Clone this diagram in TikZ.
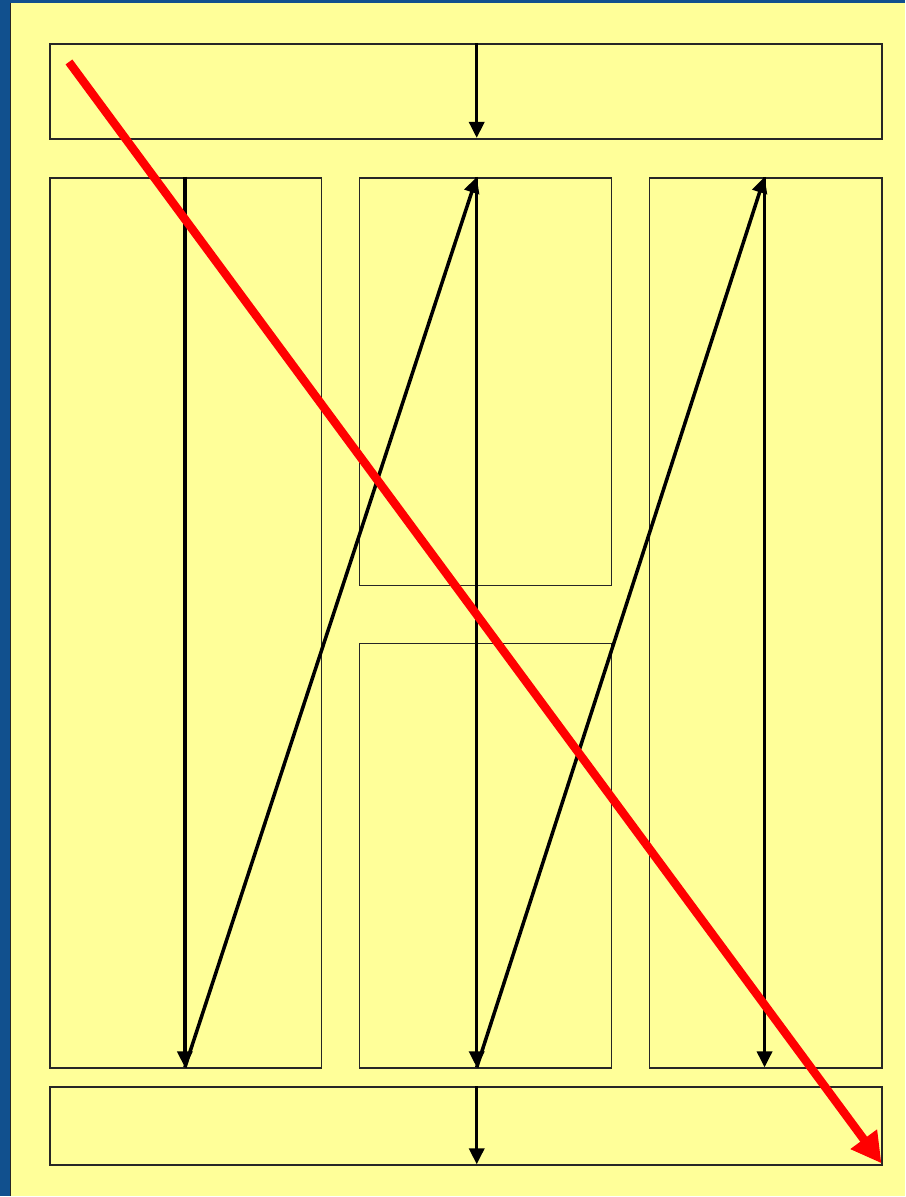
\documentclass[tikz,border=0pt]{standalone}
\usepackage{tikz}
\usetikzlibrary{arrows.meta, positioning}
\definecolor{frameblue}{HTML}{11508E}
\definecolor{paper}{HTML}{FFFF99}
\definecolor{flowred}{HTML}{FF0000}

\begin{document}
\begin{tikzpicture}[x=0.02cm, y=-0.02cm]
  \tikzset{
    pane/.style={draw=black!85, line width=0.95pt, fill=paper, inner sep=0pt, anchor=north west},
    flow/.style={line width=2pt, -{Triangle[length=0.32cm, width=0.3cm]}},
    diag/.style={draw=flowred, line width=4.8pt, -{Triangle[length=0.6cm, width=0.62cm]}}
  }
  % page and margins
  \fill[frameblue] (0,0) rectangle (906,1197);
  \fill[paper] (10,3) rectangle (906,1197);
  \draw[black!85, line width=0.8pt] (10.5,3) -- (10.5,1197);
  \useasboundingbox (0,0) rectangle (906,1197);

  % layout blocks
  \node[pane, minimum width=16.66cm, minimum height=1.9cm] (head) at (49,43) {};
  \node[pane, minimum width=5.44cm, minimum height=17.82cm] (colA) at (49,177) {};
  \node[pane, minimum width=5.04cm, minimum height=8.16cm] (colBtop) at (359,177) {};
  \node[pane, minimum width=5.04cm, minimum height=8.5cm] (colBbot) at (359,643) {};
  \node[pane, minimum width=4.66cm, minimum height=17.82cm] (colC) at (649,177) {};
  \node[pane, minimum width=16.66cm, minimum height=1.56cm] (foot) at (49,1087) {};

  % reading path
  \coordinate (h1) at (477,43);   \coordinate (h2) at (477,138);
  \coordinate (a1) at (185,177);  \coordinate (a2) at (185,1068);
  \coordinate (b1) at (477,177);  \coordinate (b2) at (477,1068);
  \coordinate (c1) at (765,177);  \coordinate (c2) at (765,1068);
  \coordinate (f1) at (477,1087); \coordinate (f2) at (477,1165);
  \draw[flow] (h1) -- (h2);
  \draw[flow] (a1) -- (a2);
  \draw[flow] (a2) -- (b1);
  \draw[flow] (b1) -- (b2);
  \draw[flow] (b2) -- (c1);
  \draw[flow] (c1) -- (c2);
  \draw[flow] (f1) -- (f2);

  % diagonal scan
  \coordinate (r1) at (69,62);
  \coordinate (r2) at (882,1164);
  \draw[diag] (r1) -- (r2);
\end{tikzpicture}
\end{document}
